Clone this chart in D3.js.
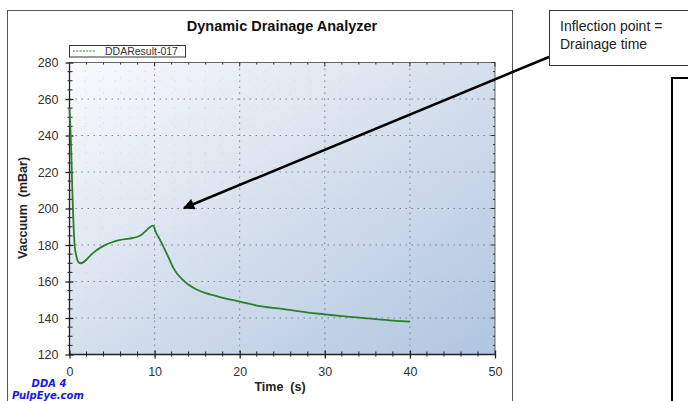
<!DOCTYPE html>
<html><head><meta charset="utf-8">
<script src="https://cdn.jsdelivr.net/npm/d3@7"></script>
<style>body{margin:0;background:#fff}svg{display:block}</style>
</head><body>
<svg id="c" width="688" height="401"></svg>
<script>
const title = "Dynamic Drainage Analyzer";
const seriesName = "DDAResult-017";
const xTicks = [0, 10, 20, 30, 40, 50];
const yTicks = [120, 140, 160, 180, 200, 220, 240, 260, 280];
const timeS = [0,0.1,0.2,0.3,0.4,0.5,0.6,0.8,1.0,1.3,1.6,2,2.5,3,4,5,6,7,8,8.5,9,9.4,9.8,10.2,10.65,11.2,11.7,12.2,12.7,13.2,14,15,16,17,18,20,22,25,28,30,32,35,38,40];
const vacuum = [255,245,232,215,200,188,180,174,171,170,170.5,172,174.5,176.5,179.5,181.5,182.8,183.5,184.5,185.8,187.8,189.6,190.6,186.5,182.7,177.5,172.5,167.5,164,161.5,158.2,155.5,153.6,152.4,151,149,146.8,145,143,142,141,139.8,138.6,138];
const annotation = ["Inflection point =", "Drainage time"];

const svg = d3.select("#c");
const defs = svg.append("defs");
const grad = defs.append("linearGradient").attr("id","bg").attr("x1","0").attr("y1","0").attr("x2","1").attr("y2","1");
grad.append("stop").attr("offset","0").attr("stop-color","#f9fafc");
grad.append("stop").attr("offset","1").attr("stop-color","#b0c5df");
defs.append("marker").attr("id","ah").attr("viewBox","0 0 10 10").attr("refX",9).attr("refY",5)
  .attr("markerWidth",5).attr("markerHeight",4.5).attr("orient","auto-start-reverse").attr("markerUnits","strokeWidth")
  .append("path").attr("d","M0,0L10,5L0,10z").attr("fill","#000");

// outer chart frame
svg.append("rect").attr("x",7.5).attr("y",10.5).attr("width",505).attr("height",400).attr("fill","#fff").attr("stroke","#555");

const L=69.5, R=495, T=62.5, B=354.5;
const x = d3.scaleLinear().domain([0,50]).range([L,R]);
const y = d3.scaleLinear().domain([120,280]).range([B,T]);

svg.append("rect").attr("x",L).attr("y",T).attr("width",R-L).attr("height",B-T).attr("fill","url(#bg)");

// minor grid
const g = svg.append("g");
g.selectAll(".mx").data(d3.range(2,50,2).filter(v=>v%10)).join("line")
  .attr("x1",d=>x(d)).attr("x2",d=>x(d)).attr("y1",T).attr("y2",B)
  .attr("stroke","#cdd5e0").attr("stroke-dasharray","1,14").attr("stroke-width",1);
g.selectAll(".my").data(d3.range(125,280,5).filter(v=>v%20)).join("line")
  .attr("y1",d=>y(d)).attr("y2",d=>y(d)).attr("x1",L).attr("x2",R)
  .attr("stroke","#cdd5e0").attr("stroke-dasharray","1,14").attr("stroke-width",1);
// major grid
g.selectAll(".gx").data(xTicks.slice(1,-1)).join("line")
  .attr("x1",d=>x(d)).attr("x2",d=>x(d)).attr("y1",T).attr("y2",B)
  .attr("stroke","#7d8494").attr("stroke-dasharray","1.5,4.5");
g.selectAll(".gy").data(yTicks.slice(1,-1)).join("line")
  .attr("y1",d=>y(d)).attr("y2",d=>y(d)).attr("x1",L).attr("x2",R)
  .attr("stroke","#7d8494").attr("stroke-dasharray","1.5,4.5");

// plot border
svg.append("rect").attr("x",L).attr("y",T).attr("width",R-L).attr("height",B-T).attr("fill","none").attr("stroke","#444").attr("stroke-width",0.8);

// axes
const fnt = "Arial, 'Liberation Sans', sans-serif";
const yAx = svg.append("g").attr("transform",`translate(${L+4},0)`)
  .call(d3.axisLeft(y).tickValues(yTicks).tickSize(8).tickPadding(7).tickFormat(d3.format("d")));
const xAx = svg.append("g").attr("transform",`translate(0,${B-4})`)
  .call(d3.axisBottom(x).tickValues(xTicks).tickSize(8).tickPadding(9).tickFormat(d3.format("d")));
[yAx,xAx].forEach(a=>{a.select(".domain").remove();a.selectAll("line").attr("stroke","#222").attr("stroke-width",1.3);
  a.selectAll("text").attr("font-family",fnt).attr("font-size",12.5).attr("fill","#333");});
svg.append("line").attr("x1",L).attr("x2",L).attr("y1",T).attr("y2",B).attr("stroke","#222").attr("stroke-width",1.3);
svg.append("line").attr("x1",L).attr("x2",R).attr("y1",B).attr("y2",B).attr("stroke","#222").attr("stroke-width",1.3);
// minor ticks
const mx = d3.range(2,50,2).filter(v=>v%10), my = d3.range(125,280,5).filter(v=>v%20);
svg.append("g").selectAll("line").data(mx).join("line").attr("x1",d=>x(d)).attr("x2",d=>x(d)).attr("y1",B-3).attr("y2",B+2).attr("stroke","#222");
svg.append("g").selectAll("line").data(my).join("line").attr("y1",d=>y(d)).attr("y2",d=>y(d)).attr("x1",L-2).attr("x2",L+3).attr("stroke","#222");
// top & right ticks
svg.append("g").selectAll("line").data(d3.range(0,51,2)).join("line").attr("x1",d=>x(d)).attr("x2",d=>x(d)).attr("y1",T).attr("y2",d=>T+(d%10?2:4)).attr("stroke","#333");
svg.append("g").selectAll("line").data(d3.range(120,281,5)).join("line").attr("y1",d=>y(d)).attr("y2",d=>y(d)).attr("x1",R).attr("x2",d=>R-(d%20?2:4)).attr("stroke","#333");

// data line
const pts = timeS.map((t,i)=>[t,vacuum[i]]);
const line = d3.line().x(d=>x(d[0])).y(d=>y(d[1])).curve(d3.curveMonotoneX);
svg.append("path").datum(pts).attr("d",line).attr("fill","none").attr("stroke","#2b7f2b").attr("stroke-width",1.8);

// title
svg.append("text").attr("x",282).attr("y",31).attr("text-anchor","middle").attr("font-family",fnt)
  .attr("font-weight","bold").attr("font-size",14.5).attr("fill","#111").text(title);

// legend
svg.append("rect").attr("x",69.5).attr("y",45.5).attr("width",116).attr("height",11.5).attr("fill","#fff").attr("stroke","#333");
svg.append("line").attr("x1",73).attr("x2",96).attr("y1",51).attr("y2",51).attr("stroke","#2b7f2b").attr("stroke-dasharray","2,1.3").attr("stroke-width",1.2);
svg.append("text").attr("x",105).attr("y",55).attr("font-family",fnt).attr("font-size",10.5).attr("fill","#333").text(seriesName);

// axis titles
svg.append("text").attr("transform","translate(27,208) rotate(-90)").attr("text-anchor","middle").attr("font-family",fnt)
  .attr("font-weight","bold").attr("font-size",12.5).attr("fill","#222").attr("xml:space","preserve").text("Vaccuum  (mBar)");
svg.append("text").attr("x",280).attr("y",391).attr("text-anchor","middle").attr("font-family",fnt)
  .attr("font-weight","bold").attr("font-size",12.5).attr("fill","#222").attr("xml:space","preserve").text("Time  (s)");

// branding
svg.append("text").attr("x",49).attr("y",387).attr("text-anchor","middle").attr("font-family","Verdana, 'DejaVu Sans', sans-serif")
  .attr("font-weight","bold").attr("font-style","italic").attr("font-size",10).attr("fill","#1a1ae0").text("DDA 4");
svg.append("text").attr("x",12).attr("y",399).attr("font-family","Verdana, 'DejaVu Sans', sans-serif")
  .attr("font-weight","bold").attr("font-style","italic").attr("font-size",10).attr("fill","#1a1ae0").text("PulpEye.com");

// annotation
svg.append("line").attr("x1",549).attr("y1",57).attr("x2",184).attr("y2",208).attr("stroke","#000").attr("stroke-width",2.5).attr("marker-end","url(#ah)");
svg.append("rect").attr("x",549.5).attr("y",10.5).attr("width",145).attr("height",55).attr("fill","#fff").attr("stroke","#333");
annotation.forEach((s,i)=>svg.append("text").attr("x",560).attr("y",31+i*18).attr("font-family",fnt).attr("font-size",14).attr("fill","#222").text(s));
svg.append("rect").attr("x",672).attr("y",78).attr("width",40).attr("height",340).attr("fill","#fff").attr("stroke","#000").attr("stroke-width",2);
</script>
</body></html>
